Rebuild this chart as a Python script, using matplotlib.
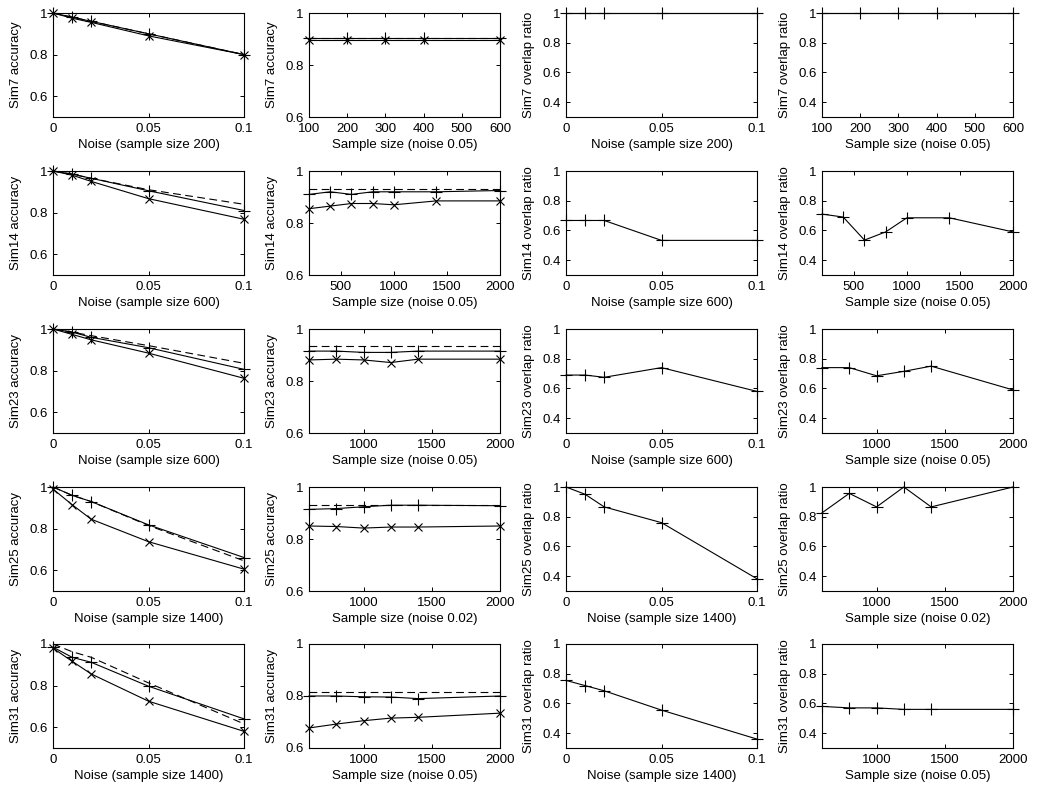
import matplotlib
matplotlib.use("Agg")
import matplotlib.pyplot as plt
from matplotlib.ticker import FuncFormatter

plt.rcParams["font.family"] = ["Liberation Sans", "DejaVu Sans"]
plt.rcParams["font.size"] = 9.5

# x values
noise = [0, 0.01, 0.02, 0.05, 0.1]
size_sim7 = [100, 200, 300, 400, 600]
size_sim14 = [200, 400, 600, 800, 1000, 1400, 2000]
size_big = [600, 800, 1000, 1200, 1400, 2000]

# accuracy vs noise (dashed, plus, cross)
sim7_noise_dash = [1.0, 0.98, 0.96, 0.90, 0.80]
sim7_noise_plus = [1.0, 0.98, 0.96, 0.90, 0.80]
sim7_noise_x = [1.0, 0.975, 0.955, 0.89, 0.80]
sim14_noise_dash = [1.0, 0.985, 0.965, 0.91, 0.84]
sim14_noise_plus = [1.0, 0.985, 0.965, 0.905, 0.81]
sim14_noise_x = [1.0, 0.98, 0.95, 0.867, 0.768]
sim23_noise_dash = [1.0, 0.985, 0.968, 0.92, 0.835]
sim23_noise_plus = [1.0, 0.985, 0.96, 0.91, 0.806]
sim23_noise_x = [1.0, 0.974, 0.948, 0.884, 0.763]
sim25_noise_dash = [1.0, 0.96, 0.93, 0.815, 0.645]
sim25_noise_plus = [1.0, 0.96, 0.93, 0.818, 0.661]
sim25_noise_x = [0.99, 0.915, 0.845, 0.737, 0.605]
sim31_noise_dash = [1.0, 0.963, 0.936, 0.813, 0.616]
sim31_noise_plus = [0.985, 0.936, 0.912, 0.797, 0.64]
sim31_noise_x = [0.98, 0.917, 0.856, 0.725, 0.58]

# accuracy vs sample size
sim7_size_dash = [0.905, 0.905, 0.905, 0.905, 0.905]
sim7_size_plus = [0.905, 0.905, 0.905, 0.905, 0.905]
sim7_size_x = [0.895, 0.895, 0.895, 0.895, 0.895]
sim14_size_dash = [0.93, 0.93, 0.93, 0.93, 0.93, 0.93, 0.93]
sim14_size_plus = [0.91, 0.92, 0.91, 0.92, 0.92, 0.92, 0.925]
sim14_size_x = [0.855, 0.865, 0.875, 0.875, 0.87, 0.885, 0.885]
sim23_size_dash = [0.935, 0.935, 0.935, 0.935, 0.935, 0.935]
sim23_size_plus = [0.915, 0.915, 0.91, 0.91, 0.915, 0.915]
sim23_size_x = [0.881, 0.884, 0.881, 0.871, 0.884, 0.884]
sim25_size_dash = [0.932, 0.932, 0.932, 0.932, 0.932, 0.932]
sim25_size_plus = [0.914, 0.917, 0.924, 0.93, 0.93, 0.928]
sim25_size_x = [0.85, 0.848, 0.842, 0.846, 0.846, 0.85]
sim31_size_dash = [0.815, 0.815, 0.815, 0.815, 0.815, 0.815]
sim31_size_plus = [0.80, 0.80, 0.797, 0.796, 0.79, 0.80]
sim31_size_x = [0.677, 0.692, 0.705, 0.715, 0.718, 0.734]

# overlap ratio
sim7_overlap_noise = [1.0, 1.0, 1.0, 1.0, 1.0]
sim7_overlap_size = [1.0, 1.0, 1.0, 1.0, 1.0]
sim14_overlap_noise = [0.667, 0.667, 0.667, 0.533, 0.533]
sim14_overlap_size = [0.71, 0.69, 0.535, 0.59, 0.685, 0.685, 0.59]
sim23_overlap_noise = [0.69, 0.69, 0.675, 0.74, 0.58]
sim23_overlap_size = [0.74, 0.74, 0.685, 0.715, 0.75, 0.59]
sim25_overlap_noise = [1.0, 0.951, 0.866, 0.76, 0.382]
sim25_overlap_size = [0.826, 0.957, 0.866, 1.0, 0.866, 1.0]
sim31_overlap_noise = [0.755, 0.72, 0.685, 0.555, 0.36]
sim31_overlap_size = [0.58, 0.57, 0.57, 0.56, 0.56, 0.56]

names = ["Sim7", "Sim14", "Sim23", "Sim25", "Sim31"]
noise_labels = ["Noise (sample size 200)", "Noise (sample size 600)",
                "Noise (sample size 600)", "Noise (sample size 1400)",
                "Noise (sample size 1400)"]
size_labels = ["Sample size (noise 0.05)", "Sample size (noise 0.05)",
               "Sample size (noise 0.05)", "Sample size (noise 0.02)",
               "Sample size (noise 0.05)"]
size_x = [size_sim7, size_sim14, size_big, size_big, size_big]
size_ticks = [[100, 200, 300, 400, 500, 600], [500, 1000, 1500, 2000],
              [1000, 1500, 2000], [1000, 1500, 2000], [1000, 1500, 2000]]

acc_noise = [(sim7_noise_dash, sim7_noise_plus, sim7_noise_x),
             (sim14_noise_dash, sim14_noise_plus, sim14_noise_x),
             (sim23_noise_dash, sim23_noise_plus, sim23_noise_x),
             (sim25_noise_dash, sim25_noise_plus, sim25_noise_x),
             (sim31_noise_dash, sim31_noise_plus, sim31_noise_x)]
acc_size = [(sim7_size_dash, sim7_size_plus, sim7_size_x),
            (sim14_size_dash, sim14_size_plus, sim14_size_x),
            (sim23_size_dash, sim23_size_plus, sim23_size_x),
            (sim25_size_dash, sim25_size_plus, sim25_size_x),
            (sim31_size_dash, sim31_size_plus, sim31_size_x)]
overlap_noise = [sim7_overlap_noise, sim14_overlap_noise, sim23_overlap_noise,
                 sim25_overlap_noise, sim31_overlap_noise]
overlap_size = [sim7_overlap_size, sim14_overlap_size, sim23_overlap_size,
                sim25_overlap_size, sim31_overlap_size]

W, H = 1041, 796
col_left = [53, 309, 566, 822]
ax_w = 191
row_top = [13, 171, 329, 487, 644]
ax_h = 104

LW = 0.8
MS_PLUS = 8
MS_X = 6
fmt = FuncFormatter(lambda v, p: "%g" % v)


def style(ax, xlim, xticks, ylim, yticks, xlabel, ylabel):
    ax.set_xlim(*xlim)
    ax.set_ylim(*ylim)
    ax.set_xticks(xticks)
    ax.set_yticks(yticks)
    ax.xaxis.set_major_formatter(fmt)
    ax.yaxis.set_major_formatter(fmt)
    ax.tick_params(direction="in", top=True, right=True, length=3,
                   width=0.7, labelsize=9.5, pad=4)
    for s in ax.spines.values():
        s.set_linewidth(0.8)
    ax.set_xlabel(xlabel, labelpad=3)
    ax.set_ylabel(ylabel, labelpad=5)


def accuracy(ax, x, series):
    dash, plus, cross = series
    ax.plot(x, dash, color="black", lw=LW, ls=(0, (7, 4)), clip_on=False)
    ax.plot(x, plus, color="black", lw=LW, marker="+", ms=MS_PLUS,
            mew=LW, clip_on=False)
    ax.plot(x, cross, color="black", lw=LW, marker="x", ms=MS_X,
            mew=LW, clip_on=False)


fig = plt.figure(figsize=(W / 100, H / 100), dpi=100)
for r in range(5):
    axes = []
    for c in range(4):
        axes.append(fig.add_axes([col_left[c] / W, 1 - (row_top[r] + ax_h) / H,
                                  ax_w / W, ax_h / H]))
    a1, a2, a3, a4 = axes
    nm = names[r]

    accuracy(a1, noise, acc_noise[r])
    style(a1, (0, 0.1), [0, 0.05, 0.1], (0.5, 1), [0.6, 0.8, 1],
          noise_labels[r], nm + " accuracy")

    xs = size_x[r]
    accuracy(a2, xs, acc_size[r])
    style(a2, (xs[0], xs[-1]), size_ticks[r], (0.6, 1), [0.6, 0.8, 1],
          size_labels[r], nm + " accuracy")

    a3.plot(noise, overlap_noise[r], color="black", lw=LW, marker="+",
            ms=MS_PLUS, mew=LW, clip_on=False)
    style(a3, (0, 0.1), [0, 0.05, 0.1], (0.3, 1), [0.4, 0.6, 0.8, 1],
          noise_labels[r], nm + " overlap ratio")

    a4.plot(xs, overlap_size[r], color="black", lw=LW, marker="+",
            ms=MS_PLUS, mew=LW, clip_on=False)
    style(a4, (xs[0], xs[-1]), size_ticks[r], (0.3, 1), [0.4, 0.6, 0.8, 1],
          size_labels[r], nm + " overlap ratio")

fig.savefig("out.png", dpi=100, facecolor="white")
